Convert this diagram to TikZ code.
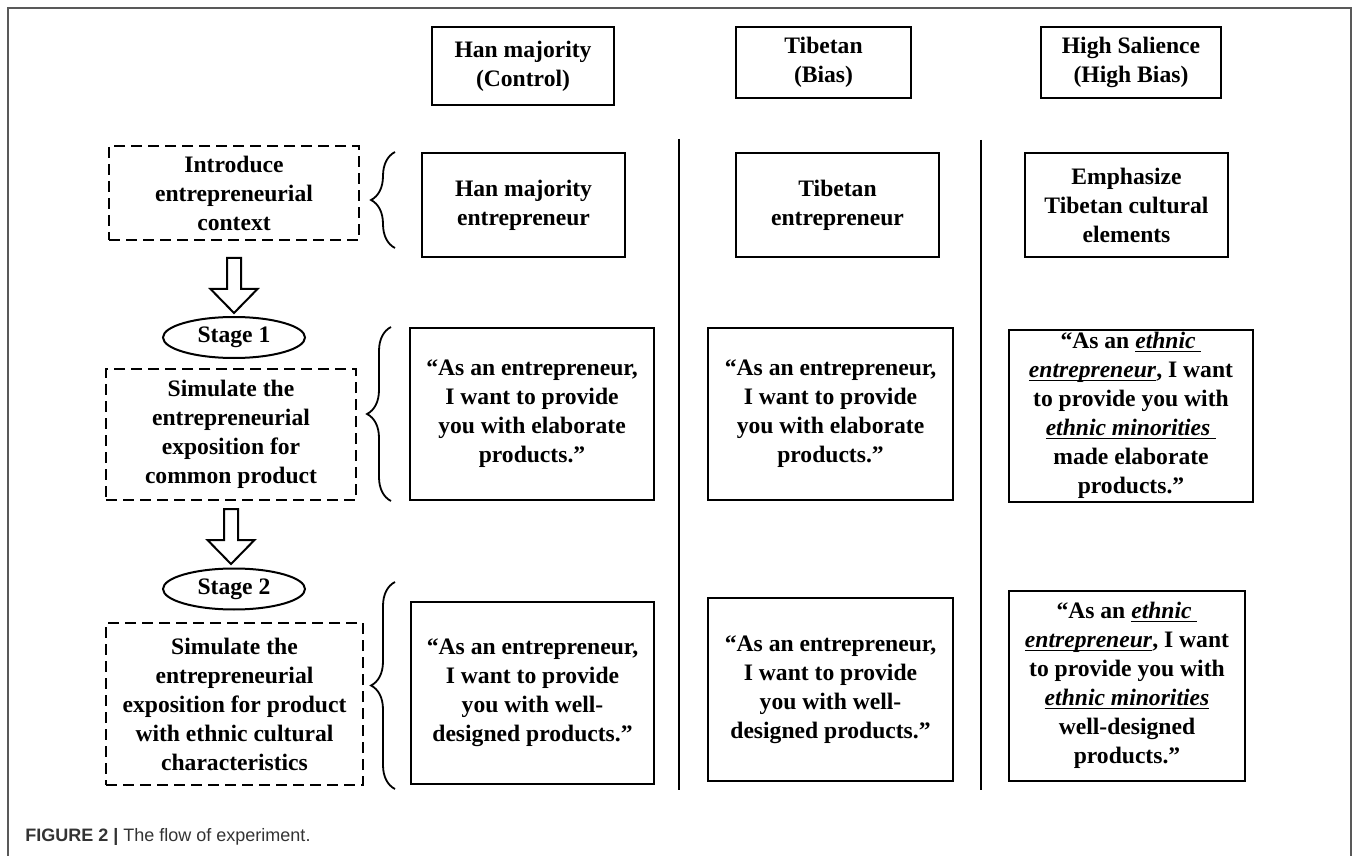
\documentclass[tikz,border=0pt]{standalone}
\usepackage{fontspec}
\setmainfont{Liberation Serif}
\newfontfamily\capfont{Liberation Sans}
\usetikzlibrary{shapes.geometric,decorations.pathreplacing,calc}

\newcommand\ethul[1]{\underline{\smash{\textit{#1}}}}

\tikzset{
	box/.style={draw, line width=1pt, inner sep=0pt, align=center,
		font=\fontsize{11.8}{14.5}\selectfont\bfseries},
	dashbox/.style={box, dash pattern=on 5.5pt off 3pt},
	stage/.style={box, ellipse, minimum width=71pt, minimum height=20.5pt},
	curly/.style={decorate, decoration={brace, amplitude=12pt}, line width=0.9pt},
	pics/blockarrow/.style={code={
		\draw[line width=1pt] (-7,0) -- (-7,31) -- (-23.5,31) -- (0,55) -- (23.5,31) -- (7,31) -- (7,0) -- cycle;}}
}

\begin{document}
\begin{tikzpicture}[x=0.5pt, y=-0.5pt]
	\useasboundingbox (0,0) rectangle (1357,856);
	% frame
	\draw[black!65, line width=0.7pt] (8,870) -- (8,8) -- (1351,8) -- (1351,870);

	% column heads
	\node[box, minimum width=91pt, minimum height=39pt] (hdhan) at (523,66) {Han majority\\(Control)};
	\node[box, minimum width=87.5pt, minimum height=35.5pt] (hdtib) at (823.5,62.5) {Tibetan\\(Bias)};
	\node[box, minimum width=90pt, minimum height=35.5pt] (hdhigh) at (1131,62.5) {High Salience\\(High Bias)};

	% separators
	\draw[line width=1pt] (679,139) -- (679,790);
	\draw[line width=1pt] (981,140) -- (981,790);

	% context
	\node[dashbox, minimum width=125pt, minimum height=47pt] (intro) at (234,193) {Introduce\\entrepreneurial\\context};
	\node[box, minimum width=101.5pt, minimum height=52pt] (enthan) at (523.5,205) {Han majority\\entrepreneur};
	\node[box, minimum width=101.5pt, minimum height=52pt] (enttib) at (837.5,205) {Tibetan\\entrepreneur};
	\node[box, minimum width=101.5pt, minimum height=52pt] (enthigh) at (1126.5,205) {Emphasize\\Tibetan cultural\\elements};
	\draw[curly] ($(enthan.south west)+(-26,-10)$) -- ($(enthan.north west)+(-26,0)$);

	% stage 1
	\pic at ($(intro.south)+(0,17)$) {blockarrow};
	\node[stage] (stage1) at (234,337.5) {Stage 1};
	\node[dashbox, minimum width=125pt, minimum height=65.5pt] (sim1) at (231,434.5) {Simulate the\\entrepreneurial\\exposition for\\common product};
	\node[box, minimum width=122pt, minimum height=86pt] (qonehan) at (532,414) {“As an entrepreneur,\\I want to provide\\you with elaborate\\products.”};
	\node[box, minimum width=122.5pt, minimum height=86pt] (qonetib) at (830.5,414) {“As an entrepreneur,\\I want to provide\\you with elaborate\\products.”};
	\node[box, minimum width=122pt, minimum height=86pt] (qonehigh) at (1131,416) {“As an \ethul{ethnic\ }\\\ethul{entrepreneur}, I want\\to provide you with\\\ethul{ethnic minorities\ }\\made elaborate\\products.”};
	\draw[curly] ($(qonehan.south west)+(-18,0)$) -- ($(qonehan.north west)+(-18,0)$);

	% stage 2
	\pic at ($(sim1.south)+(0,8)$) {blockarrow};
	\node[stage] (stage2) at (234,589) {Stage 2};
	\node[dashbox, minimum width=128.5pt, minimum height=81pt] (sim2) at (234.5,704) {Simulate the\\entrepreneurial\\exposition for product\\with ethnic cultural\\characteristics};
	\node[box, minimum width=121.5pt, minimum height=91pt] (qtwohan) at (532.5,693) {“As an entrepreneur,\\I want to provide\\you with well-\\designed products.”};
	\node[box, minimum width=122.5pt, minimum height=91.5pt] (qtwotib) at (830.5,689.5) {“As an entrepreneur,\\I want to provide\\you with well-\\designed products.”};
	\node[box, minimum width=118pt, minimum height=95pt] (qtwohigh) at (1127,686) {“As an \ethul{ethnic\ }\\\ethul{entrepreneur}, I want\\to provide you with\\\ethul{ethnic minorities}\\well-designed\\products.”};
	\draw[curly] ($(qtwohan.south west)+(-15,4)$) -- ($(qtwohan.north west)+(-15,-19)$);

	% caption
	\node[anchor=west, inner sep=0pt, text=black!80, font=\capfont\fontsize{9}{11}\selectfont] (caption) at (25,837) {\textbf{FIGURE 2 |} The flow of experiment.};
\end{tikzpicture}
\end{document}
